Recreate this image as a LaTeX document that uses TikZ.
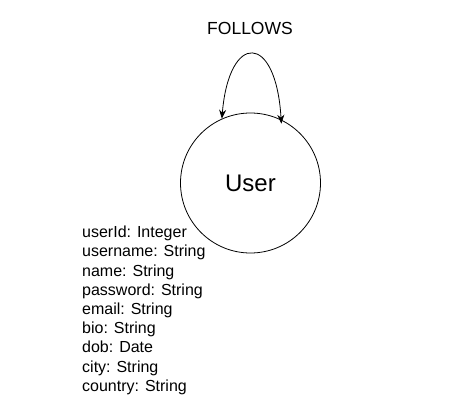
\documentclass[tikz,border=0pt]{standalone}
\usepackage{fontspec}
\setmainfont{Liberation Sans}
\usetikzlibrary{arrows.meta}
\begin{document}
\begin{tikzpicture}[x=1pt,y=-1pt,
  entity/.style={draw, circle, line width=0.8pt, minimum size=140pt, inner sep=0pt, font=\fontsize{24}{28}\selectfont},
  lbl/.style={inner sep=0pt, font=\fontsize{17.5}{20}\selectfont},
  attrs/.style={inner sep=0pt, align=left, anchor=north west, font=\fontsize{16}{19.2}\selectfont},
  rel/.style={line width=0.8pt, {Stealth[length=9pt,width=7pt]}-{Stealth[length=9pt,width=7pt]}}]
\useasboundingbox (0,0) rectangle (458,420);
\node[entity] (user) at (250.5,183) {User};
\node[lbl] (follows) at (250,28) {FOLLOWS};
\node[attrs] (attr) at (82,226) {userId: Integer\\username: String\\name: String\\password: String\\email: String\\bio: String\\dob: Date\\city: String\\country: String};
\coordinate (a) at (user.114);
\coordinate (b) at ([yshift=-4pt]user.64);
\draw[rel] (a) .. controls (229,32) and (276,32) .. (b);
\end{tikzpicture}
\end{document}
